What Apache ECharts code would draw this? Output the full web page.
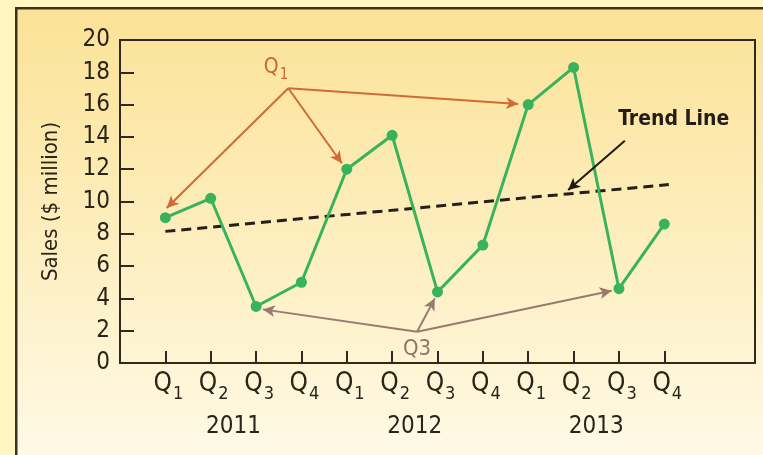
<!DOCTYPE html>
<html>
<head>
<meta charset="utf-8">
<script src="https://cdn.jsdelivr.net/npm/echarts@6/dist/echarts.min.js"></script>
<style>
  html, body { margin: 0; padding: 0; background: #fff6c4; }
  #chart { width: 763px; height: 455px; }
</style>
</head>
<body>
<div id="chart"></div>
<script>
// Quarterly sales, 2011–2013
const quarterLabels = ['Q1', 'Q2', 'Q3', 'Q4', 'Q1', 'Q2', 'Q3', 'Q4', 'Q1', 'Q2', 'Q3', 'Q4'];
const quarterPositions = [1, 2, 3, 4, 5, 6, 7, 8, 9, 10, 11, 12];
const years = ['2011', '2012', '2013'];
const yearPositions = [2.5, 6.5, 10.5];
const sales = [9.0, 10.2, 3.5, 5.0, 12.0, 14.1, 4.4, 7.3, 16.0, 18.3, 4.6, 8.6];
const trendLine = [[1, 8.15], [12.1, 11.05]];

// Callouts: label anchor, arrow origin, arrow tips (data units)
const q1Callout = { text: 'Q1', label: [3.44, 18.25], from: [3.71, 17.01], to: [[1.03, 9.6], [4.89, 12.37], [8.78, 16.04]] };
const q3Callout = { text: 'Q3', label: [6.55, 0.87], from: [6.55, 1.94], to: [[3.15, 3.32], [6.94, 4.0], [10.84, 4.48]] };
const trendCallout = { text: 'Trend Line', label: [12.21, 15.05], from: [11.13, 13.76], to: [[9.88, 10.71]] };

const FONT = "'Liberation Sans Narrow', 'DejaVu Sans Condensed', 'Arial Narrow', sans-serif";
const INK = '#2a2419';
const GREEN = '#38b35c';

function subscriptLabel(text, key) {
  return '{' + key + 'q|' + text.charAt(0) + '}{' + key + 's|' + text.slice(1) + '}';
}

function callout(name, c, color, labelStyle, lineWidth) {
  return {
    name: name,
    type: 'scatter',
    symbolSize: 0,
    silent: true,
    z: 5,
    data: [[c.label[0], c.label[1], c.text]],
    label: Object.assign({
      show: true,
      position: 'inside',
      color: color,
      opacity: 1,
      fontFamily: FONT
    }, labelStyle),
    markLine: {
      silent: true,
      symbol: ['none', 'arrow'],
      symbolSize: [9, 12],
      label: { show: false },
      lineStyle: { color: color, width: lineWidth, type: 'solid' },
      emphasis: { disabled: true },
      data: c.to.map(t => [
        { coord: c.from, lineStyle: { color: color, width: lineWidth, type: 'solid' } },
        { coord: t }
      ])
    }
  };
}

const chart = echarts.init(document.getElementById('chart'), null, { renderer: 'canvas' });

chart.setOption({
  animation: false,
  backgroundColor: '#fff6c4',
  graphic: [{
    type: 'rect',
    left: 15, top: 7,
    shape: { width: 770, height: 470 },
    z: -10,
    style: {
      fill: new echarts.graphic.LinearGradient(0, 0, 0, 1, [
        { offset: 0, color: '#fbe296' },
        { offset: 0.45, color: '#fdedbb' },
        { offset: 1, color: '#fffbea' }
      ]),
      stroke: '#3a3223',
      lineWidth: 2.5
    }
  }],
  grid: {
    left: 120, right: 8, top: 40, bottom: 92,
    show: true,
    borderColor: '#2f2a20',
    borderWidth: 2,
    backgroundColor: 'transparent'
  },
  xAxis: [{
    type: 'value',
    min: 0, max: 14,
    splitLine: { show: false },
    axisLine: { show: true, onZero: false, lineStyle: { color: '#2f2a20', width: 2 } },
    axisTick: {
      show: true, inside: true, length: 12,
      customValues: quarterPositions,
      lineStyle: { color: '#2f2a20', width: 2 }
    },
    axisLabel: {
      customValues: quarterPositions,
      margin: 8,
      color: INK,
      fontFamily: FONT,
      padding: [0, 0, 0, 6],
      formatter: v => subscriptLabel(quarterLabels[quarterPositions.indexOf(v)], 'x'),
      rich: {
        xq: { fontSize: 26, lineHeight: 27, verticalAlign: 'top', fontFamily: FONT, color: INK },
        xs: { fontSize: 18, lineHeight: 20, verticalAlign: 'top', padding: [14, 0, 0, 1], fontFamily: FONT, color: INK }
      }
    }
  }, {
    type: 'value',
    min: 0, max: 14,
    position: 'bottom',
    splitLine: { show: false },
    axisLine: { show: false },
    axisTick: { show: false },
    axisLabel: {
      customValues: yearPositions,
      margin: 52,
      color: INK,
      fontSize: 24,
      fontFamily: FONT,
      formatter: v => years[yearPositions.indexOf(v)]
    }
  }],
  yAxis: {
    type: 'value',
    min: 0, max: 20, interval: 2,
    name: 'Sales ($ million)',
    nameLocation: 'middle',
    nameRotate: 90,
    nameGap: 58,
    nameTextStyle: { color: INK, fontSize: 22, fontFamily: FONT },
    splitLine: { show: false },
    axisLine: { show: true, lineStyle: { color: '#2f2a20', width: 2 } },
    axisTick: { show: true, inside: true, length: 14, lineStyle: { color: '#2f2a20', width: 2 } },
    axisLabel: { color: INK, fontSize: 24, fontFamily: FONT, margin: 10 }
  },
  series: [
    {
      name: 'Trend',
      type: 'line',
      data: trendLine,
      symbol: 'none',
      z: 2,
      lineStyle: { color: '#241f18', width: 3, type: [10, 6] }
    },
    {
      name: 'Sales',
      type: 'line',
      data: sales.map((v, i) => [quarterPositions[i], v]),
      symbol: 'circle',
      symbolSize: 11,
      z: 3,
      itemStyle: { color: GREEN },
      lineStyle: { color: GREEN, width: 3 }
    },
    callout('Q1 note', q1Callout, '#d06a36', {
      formatter: p => subscriptLabel(p.data[2], 'a'),
      rich: {
        aq: { fontSize: 21, lineHeight: 22, verticalAlign: 'top', fontFamily: FONT, color: '#cc6531' },
        as: { fontSize: 15, lineHeight: 16, verticalAlign: 'top', padding: [10, 0, 0, 1], fontFamily: FONT, color: '#cc6531' }
      }
    }, 2),
    callout('Q3 note', q3Callout, '#9a7a70', {
      formatter: p => p.data[2],
      fontSize: 22,
      color: '#957268'
    }, 2),
    callout('Trend note', trendCallout, '#1e1a14', {
      formatter: p => p.data[2],
      fontSize: 21,
      fontWeight: 'bold',
      color: '#221d16'
    }, 2)
  ]
});
</script>
</body>
</html>
